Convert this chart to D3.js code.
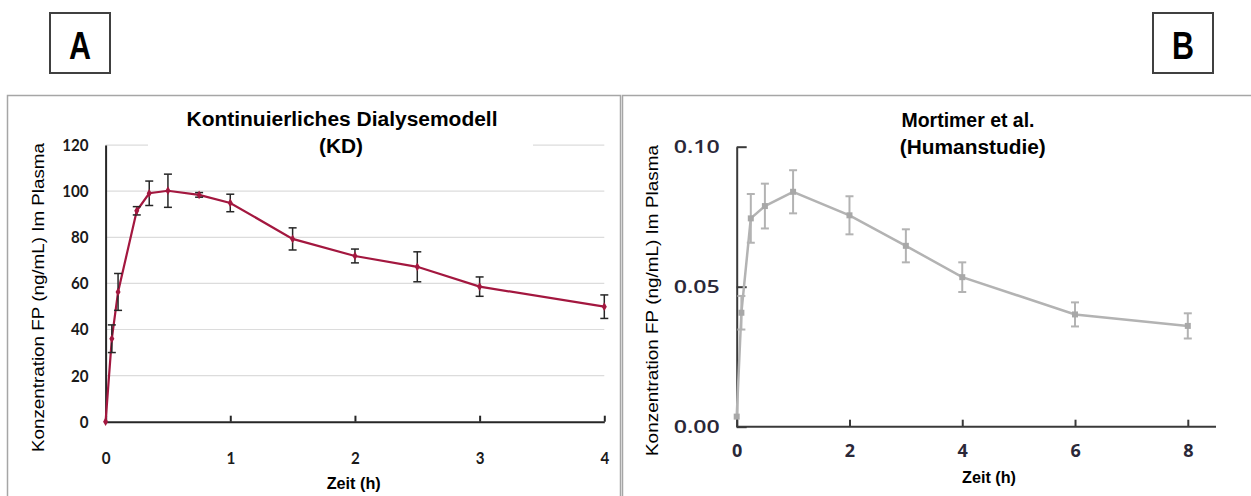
<!DOCTYPE html>
<html>
<head>
<meta charset="utf-8">
<script src="https://cdn.jsdelivr.net/npm/d3@7"></script>
<style>
  body { margin: 0; background: #fff; }
  svg { display: block; }
</style>
</head>
<body>
<div id="chart"></div>
<script>
// Panel A: Kontinuierliches Dialysemodell (KD)
var timeA  = [0, 0.05, 0.1, 0.25, 0.35, 0.5, 0.75, 1, 1.5, 2, 2.5, 3, 4];
var concA  = [0, 36, 56.3, 91.5, 99.1, 100.2, 98.4, 94.9, 79.3, 71.9, 67.2, 58.6, 49.9];
var errA   = [0, 6, 8, 1.8, 5.3, 7.2, 1, 3.8, 4.8, 3, 6.5, 4.2, 5.1];
var ticksAx = [0, 1, 2, 3, 4];
var ticksAy = [0, 20, 40, 60, 80, 100, 120];

// Panel B: Mortimer et al. (Humanstudie)
var timeB  = [0, 0.083, 0.25, 0.5, 1, 2, 3, 4, 6, 8];
var concB  = [0.0036, 0.0407, 0.0744, 0.0788, 0.0839, 0.0755, 0.0646, 0.0534, 0.0401, 0.036];
var errB   = [0, 0.006, 0.0087, 0.008, 0.0077, 0.0068, 0.0059, 0.0053, 0.0043, 0.0045];
var ticksBx = [0, 2, 4, 6, 8];
var ticksBy = [0, 0.05, 0.10];

var W = 1251, H = 496;
var svg = d3.select("#chart").append("svg")
    .attr("width", W)
    .attr("height", H);

var rowsA = timeA.map(function(t, i) { return {t: t, v: concA[i], e: errA[i]}; });
var rowsB = timeB.map(function(t, i) { return {t: t, v: concB[i], e: errB[i]}; });

// panel frames
svg.append("rect").attr("x", 7.5).attr("y", 95.5).attr("width", 613).attr("height", 430)
  .attr("fill", "none").attr("stroke", "#a6a6a6").attr("stroke-width", 1.5);
svg.append("rect").attr("x", 622.5).attr("y", 95.5).attr("width", 640).attr("height", 430)
  .attr("fill", "none").attr("stroke", "#a6a6a6").attr("stroke-width", 1.5);

// letter boxes
function letterBox(x, label) {
  svg.append("rect").attr("x", x).attr("y", 13).attr("width", 60).attr("height", 60)
    .attr("fill", "#fff").attr("stroke", "#404040").attr("stroke-width", 2);
  svg.append("text").attr("x", x + 30).attr("y", 58.5)
    .attr("text-anchor", "middle")
    .attr("font-family", "Liberation Sans, Arial, sans-serif")
    .attr("font-weight", "bold").attr("font-size", 38)
    .attr("textLength", 22).attr("lengthAdjust", "spacingAndGlyphs")
    .text(label);
}
letterBox(50, "A");
letterBox(1153, "B");

function label(x, y, txt, size, len, opts) {
  opts = opts || {};
  var t = svg.append("text")
    .attr("x", x).attr("y", y)
    .attr("text-anchor", opts.anchor || "middle")
    .attr("font-family", opts.family || "Liberation Sans, Arial, sans-serif")
    .attr("font-weight", opts.weight || "bold")
    .attr("font-size", size)
    .attr("fill", opts.fill || "#000")
    .text(txt);
  if (len) t.attr("textLength", len).attr("lengthAdjust", "spacingAndGlyphs");
  if (opts.rotate) t.attr("transform", "rotate(-90," + x + "," + y + ")");
  return t;
}

// ---------- Panel A ----------
var xA = d3.scaleLinear().domain([0, 4]).range([105.6, 604.3]);
var yA = d3.scaleLinear().domain([0, 120]).range([421.7, 145.1]);

var gA = svg.append("g");

gA.selectAll(".grid")
    .data(ticksAy.slice(1))
  .enter().append("line")
    .attr("x1", xA(0)).attr("x2", xA(4))
    .attr("y1", function(d) { return yA(d); })
    .attr("y2", function(d) { return yA(d); })
    .attr("stroke", "#dcdcdc").attr("stroke-width", 1.2);

// title box hides part of the top gridline
gA.append("rect").attr("x", 148).attr("y", 100).attr("width", 385).attr("height", 56).attr("fill", "#fff");
label(342, 126, "Kontinuierliches Dialysemodell", 20, 311);
label(341, 153, "(KD)", 20, 44);

var axAy = gA.append("g")
    .attr("transform", "translate(" + xA(0) + ",0)")
    .call(d3.axisLeft(yA).tickValues(ticksAy).tickFormat(d3.format("d")).tickSize(0).tickPadding(17));
axAy.select(".domain").attr("stroke", "#262626").attr("stroke-width", 2);
axAy.selectAll("text")
    .attr("font-family", "Lato, sans-serif").attr("font-weight", "bold")
    .attr("font-size", 17).attr("fill", "#1a1a1a")
    .each(function(d) {
      var n = String(d).length;
      d3.select(this).attr("textLength", n * 8.8).attr("lengthAdjust", "spacingAndGlyphs");
    });

var axAx = gA.append("g")
    .attr("transform", "translate(0," + yA(0) + ")")
    .call(d3.axisBottom(xA).tickValues(ticksAx).tickFormat(d3.format("d"))
      .tickSizeInner(-6).tickSizeOuter(0).tickPadding(30));
axAx.select(".domain").attr("stroke", "#262626").attr("stroke-width", 2);
axAx.selectAll(".tick line").attr("stroke", "#262626").attr("stroke-width", 2);
axAx.selectAll("text")
    .attr("font-family", "Lato, sans-serif").attr("font-weight", "bold")
    .attr("font-size", 17).attr("fill", "#1a1a1a")
    .attr("textLength", 8.8).attr("lengthAdjust", "spacingAndGlyphs");

label(353.7, 489, "Zeit (h)", 17, 54);
label(44, 297.5, "Konzentration FP (ng/mL) Im Plasma", 17, 309,
  {weight: "normal", rotate: true});

var colA = "#a3173f";
gA.append("path")
    .datum(rowsA)
    .attr("fill", "none").attr("stroke", colA).attr("stroke-width", 2.2)
    .attr("d", d3.line().x(function(d) { return xA(d.t); }).y(function(d) { return yA(d.v); }));

var ebA = gA.selectAll(".ebA")
    .data(rowsA.filter(function(d) { return d.e > 0; }))
  .enter().append("g")
    .attr("stroke", "#262626").attr("stroke-width", 1.5);
ebA.append("line")
    .attr("x1", function(d) { return xA(d.t); }).attr("x2", function(d) { return xA(d.t); })
    .attr("y1", function(d) { return yA(d.v + d.e); }).attr("y2", function(d) { return yA(d.v - d.e); });
ebA.append("line")
    .attr("x1", function(d) { return xA(d.t) - 4; }).attr("x2", function(d) { return xA(d.t) + 4; })
    .attr("y1", function(d) { return yA(d.v + d.e); }).attr("y2", function(d) { return yA(d.v + d.e); });
ebA.append("line")
    .attr("x1", function(d) { return xA(d.t) - 4; }).attr("x2", function(d) { return xA(d.t) + 4; })
    .attr("y1", function(d) { return yA(d.v - d.e); }).attr("y2", function(d) { return yA(d.v - d.e); });

gA.selectAll(".mA")
    .data(rowsA)
  .enter().append("path")
    .attr("transform", function(d) { return "translate(" + xA(d.t) + "," + yA(d.v) + ")"; })
    .attr("d", d3.symbol(d3.symbolDiamond, 22))
    .attr("fill", colA);

// ---------- Panel B ----------
var xB = d3.scaleLinear().domain([0, 8]).range([736.7, 1187.8]);
var yB = d3.scaleLinear().domain([0, 0.1]).range([426.7, 146.7]);

var gB = svg.append("g");

label(968, 126.5, "Mortimer et al.", 20, 133);
label(972.8, 154, "(Humanstudie)", 20, 146);

var axBy = gB.append("g")
    .attr("transform", "translate(" + xB(0) + ",0)")
    .call(d3.axisLeft(yB).tickValues(ticksBy).tickFormat(d3.format(".2f"))
      .tickSizeInner(-10).tickSizeOuter(0).tickPadding(17));
axBy.select(".domain").attr("stroke", "#3a3a3a").attr("stroke-width", 2);
axBy.selectAll(".tick line").attr("stroke", "#3a3a3a").attr("stroke-width", 2);
axBy.selectAll("text")
    .attr("font-family", "Open Sans, sans-serif").attr("font-weight", 600)
    .attr("font-size", 18).attr("fill", "#2a2838")
    .attr("textLength", 46).attr("lengthAdjust", "spacingAndGlyphs");

var axBx = gB.append("g")
    .attr("transform", "translate(0," + yB(0) + ")")
    .call(d3.axisBottom(xB).tickValues(ticksBx).tickFormat(d3.format("d"))
      .tickSizeInner(-7).tickSizeOuter(0).tickPadding(18));
axBx.select(".domain").remove();
axBx.selectAll(".tick line").attr("stroke", "#3a3a3a").attr("stroke-width", 2);
axBx.selectAll("text")
    .attr("font-family", "Open Sans, sans-serif").attr("font-weight", 700)
    .attr("font-size", 18).attr("fill", "#2a2838");
gB.append("line")
    .attr("x1", xB(0)).attr("x2", xB(8.5))
    .attr("y1", yB(0)).attr("y2", yB(0))
    .attr("stroke", "#3a3a3a").attr("stroke-width", 2);

label(989, 483, "Zeit (h)", 16, 54);
label(658, 300.5, "Konzentration FP (ng/mL) Im Plasma", 17, 311,
  {weight: "normal", rotate: true});

var colB = "#b3b3b3";
gB.append("path")
    .datum(rowsB)
    .attr("fill", "none").attr("stroke", colB).attr("stroke-width", 2.5)
    .attr("d", d3.line().x(function(d) { return xB(d.t); }).y(function(d) { return yB(d.v); }));

var ebB = gB.selectAll(".ebB")
    .data(rowsB.filter(function(d) { return d.e > 0; }))
  .enter().append("g")
    .attr("stroke", colB).attr("stroke-width", 2);
ebB.append("line")
    .attr("x1", function(d) { return xB(d.t); }).attr("x2", function(d) { return xB(d.t); })
    .attr("y1", function(d) { return yB(d.v + d.e); }).attr("y2", function(d) { return yB(d.v - d.e); });
ebB.append("line")
    .attr("x1", function(d) { return xB(d.t) - 4; }).attr("x2", function(d) { return xB(d.t) + 4; })
    .attr("y1", function(d) { return yB(d.v + d.e); }).attr("y2", function(d) { return yB(d.v + d.e); });
ebB.append("line")
    .attr("x1", function(d) { return xB(d.t) - 4; }).attr("x2", function(d) { return xB(d.t) + 4; })
    .attr("y1", function(d) { return yB(d.v - d.e); }).attr("y2", function(d) { return yB(d.v - d.e); });

gB.selectAll(".mB")
    .data(rowsB)
  .enter().append("path")
    .attr("transform", function(d) { return "translate(" + xB(d.t) + "," + yB(d.v) + ")"; })
    .attr("d", d3.symbol(d3.symbolSquare, 36))
    .attr("fill", "#a8a8a8");
</script>
</body>
</html>
